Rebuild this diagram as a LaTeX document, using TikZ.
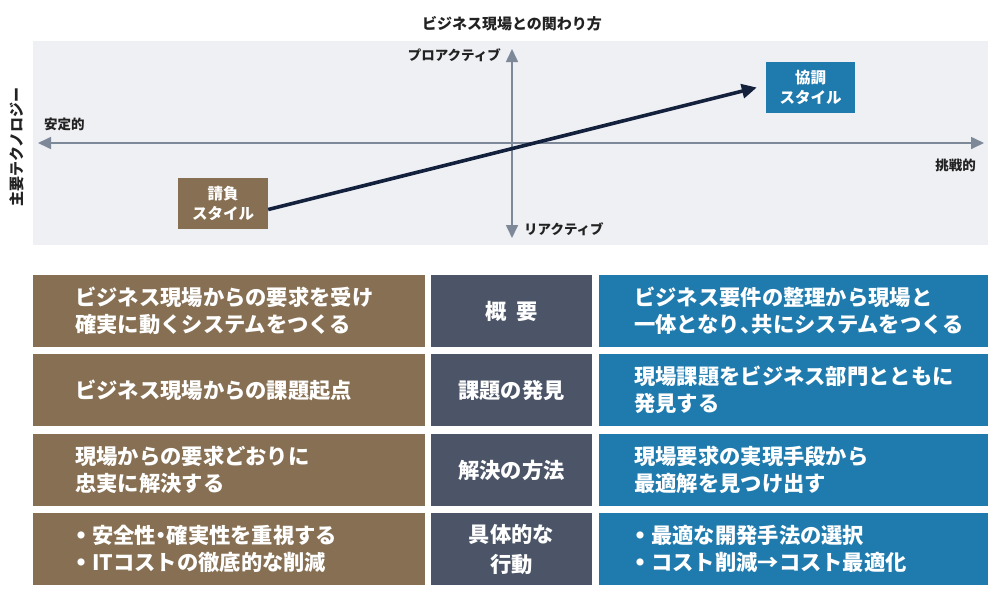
\documentclass[tikz,border=0pt]{standalone}
\usepackage{fontspec}
\setmainfont{Noto Sans CJK JP}
\usetikzlibrary{arrows.meta}
\definecolor{bgc}{HTML}{EFF0F4}
\definecolor{axisc}{HTML}{7D8899}
\definecolor{brownc}{HTML}{866F52}
\definecolor{slatec}{HTML}{4B5567}
\definecolor{bluec}{HTML}{1F7AAD}
\definecolor{navyc}{HTML}{14213D}
\definecolor{textc}{HTML}{222222}
\newcommand{\blt}{\raisebox{0.22em}{\fontsize{8}{8}\selectfont ●}\hspace{7pt}}
\newcommand{\hcomma}{\makebox[0.55em][l]{、}}
\newcommand{\hdot}{\makebox[0.5em][c]{・}}
\tikzset{
  cell/.style={draw=none, inner sep=0pt, minimum height=72pt},
  celltext/.style={text=white, font=\fontsize{21.3}{27}\selectfont\bfseries, align=left, inner sep=0pt},
  midtext/.style={text=white, font=\fontsize{21.3}{30}\selectfont\bfseries, align=center, inner sep=0pt},
  lab/.style={text=textc, font=\fontsize{13.5}{16}\selectfont\bfseries, inner sep=0pt},
  stylebox/.style={text=white, font=\fontsize{15.5}{20}\selectfont\bfseries, align=center, minimum width=90pt, minimum height=51pt, inner sep=0pt},
  axis/.style={draw=axisc, line width=1.6pt, {Triangle[length=13pt,width=12pt]}-{Triangle[length=13pt,width=12pt]}},
  bigarrow/.style={draw=navyc, line width=3.6pt, -{Triangle[length=15pt,width=14pt]}}
}
\begin{document}
\begin{tikzpicture}[x=1pt,y=-1pt]
\useasboundingbox (0,0) rectangle (1000,598);
\fill[white] (0,0) rectangle (1000,598);
% chart background
\fill[bgc] (33,41) rectangle (988,245);
\node[lab, font=\fontsize{15}{18}\selectfont\bfseries] (title) at (512,24) {ビジネス現場との関わり方};
\node[lab, font=\fontsize{15}{18}\selectfont\bfseries, rotate=90] (ylab) at (17,147) {主要テクノロジー};
% axes
\coordinate (L) at (38,143);
\coordinate (R) at (984,143);
\coordinate (T) at (512,49);
\coordinate (B) at (512,238);
\draw[axis] (L) -- (R);
\draw[axis] (B) -- (T);
\node[lab, anchor=east] (pro) at (501,55) {プロアクティブ};
\node[lab, anchor=west] (rea) at (524,229) {リアクティブ};
\node[lab, anchor=west] (ant) at (44,124) {安定的};
\node[lab, anchor=east] (cho) at (976,165) {挑戦的};
% style boxes
\node[stylebox, fill=brownc] (ukeoi) at (223,203.5) {請負\\スタイル};
\node[stylebox, fill=bluec, minimum width=89pt] (kyocho) at (810.5,87.5) {協調\\スタイル};
\draw[bigarrow] ([yshift=-6pt]ukeoi.east) -- ([xshift=-9pt]kyocho.west);
% table
\foreach \r/\y in {1/311,2/390,3/470,4/549}{
  \node[cell, fill=brownc, minimum width=392pt] (l\r) at (229,\y) {};
  \node[cell, fill=slatec, minimum width=161pt] (m\r) at (511.5,\y) {};
  \node[cell, fill=bluec, minimum width=389pt] (r\r) at (793.5,\y) {};
}
\node[celltext, anchor=west] (l1t) at (75,311) {ビジネス現場からの要求を受け\\確実に動くシステムをつくる};
\node[celltext, anchor=west] (l2t) at (75,390) {ビジネス現場からの課題起点};
\node[celltext, anchor=west] (l3t) at (75,470) {現場からの要求どおりに\\忠実に解決する};
\node[celltext, anchor=west] (l4t) at (77,549) {\blt 安全性\hdot 確実性を重視する\\\blt ITコストの徹底的な削減};
\node[midtext] (m1t) at (511.5,311) {概\hspace{0.45em}要};
\node[midtext] (m2t) at (511.5,390) {課題の発見};
\node[midtext] (m3t) at (511.5,470) {解決の方法};
\node[midtext] (m4t) at (511.5,549) {具体的な\\行動};
\node[celltext, anchor=west] (r1t) at (634,311) {ビジネス要件の整理から現場と\\一体となり\hcomma 共にシステムをつくる};
\node[celltext, anchor=west] (r2t) at (634,390) {現場課題をビジネス部門とともに\\発見する};
\node[celltext, anchor=west] (r3t) at (634,470) {現場要求の実現手段から\\最適解を見つけ出す};
\node[celltext, anchor=west] (r4t) at (636,549) {\blt 最適な開発手法の選択\\\blt コスト削減→コスト最適化};
\end{tikzpicture}
\end{document}
